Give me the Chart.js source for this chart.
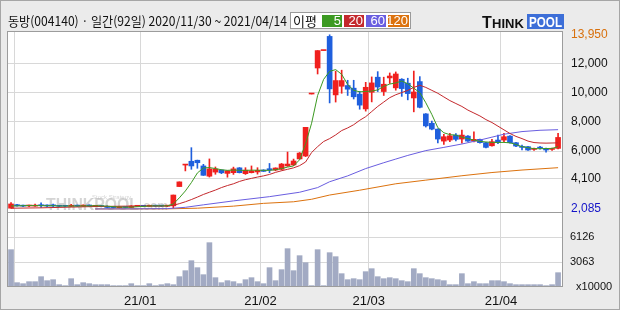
<!DOCTYPE html>
<html>
<head>
<meta charset="utf-8">
<script src="https://cdn.jsdelivr.net/npm/chart.js@4.4.1/dist/chart.umd.min.js"></script>
<style>
  html, body { margin: 0; padding: 0; background: #ebebeb; }
  canvas { display: block; }
</style>
</head>
<body>
<canvas id="chart" width="620" height="310"></canvas>
<script>
// 동방(004140) daily, 92 trading days 2020/11/30 ~ 2021/04/14
var opens = [2090,2330,2280,2240,2230,2320,2290,2260,2260,2240,2220,2300,2230,2300,2220,2250,2220,2170,2120,2170,2140,2220,
  2260,2220,2270,2250,2230,2250,3570,5040,5300,5370,4980,4280,4560,4700,4470,4520,4850,4450,4520,4570,
  4700,4790,4700,4750,4980,5050,5460,5660,9900,11680,12870,13840,9840,10430,10480,10300,9890,8880,
  10020,11050,10070,11000,10320,10910,10640,9630,10750,8540,7900,7500,6680,6750,7090,6820,7020,6680,6800,6570,6360,6750,
  6750,7020,6570,6260,6300,6110,6230,6180,6110,6180];
var highs = [2480,2350,2300,2300,2380,2450,2320,2380,2280,2260,2350,2310,2320,2310,2280,2270,2250,2190,2190,2200,2260,2280,
  2270,2300,2290,2260,2270,2990,3890,5050,6230,5380,5090,5460,4910,4720,4650,4900,4870,4860,4980,4860,
  4720,5150,4850,5150,5930,5450,5900,7620,9900,12870,12870,13950,11460,11530,10840,10840,10080,10700,
  11070,11430,11050,11340,11410,10950,10980,11470,11090,8560,8050,7520,7140,7210,7200,7430,7050,7320,6820,6600,6800,7090,
  7210,7050,6600,6410,6320,6200,6320,6200,6200,7210];
var lows = [2085,2230,2200,2200,2210,2150,2180,2150,2200,2190,2200,2220,2210,2220,2200,2180,2120,2100,2100,2110,2130,2200,
  2200,2210,2210,2200,2200,2100,3570,4640,4750,4820,4330,4220,4410,4450,4210,4400,4500,4400,4500,4420,
  4600,4520,4650,4700,4950,5000,5440,5620,9900,11270,12870,9290,9350,9950,9800,9560,8860,8730,
  9360,10070,9800,10620,10160,9740,9500,8680,8950,7640,7450,6550,6460,6640,6690,6530,6650,6620,6540,6220,6340,6500,
  6620,6540,6300,6070,6050,6040,6130,5930,6050,6150];
var closes = [2380,2250,2230,2270,2300,2260,2240,2250,2220,2220,2270,2230,2300,2240,2260,2200,2140,2130,2170,2140,2240,2260,
  2220,2280,2230,2230,2250,2990,3890,5050,4980,5200,4340,4780,4770,4510,4650,4780,4520,4690,4640,4680,
  4610,4700,4840,5110,5110,5320,5860,7620,9900,12870,12870,10250,10820,10820,10230,9710,9140,10360,
  10660,10380,10570,11130,11270,10270,9930,10040,8990,7720,7500,6820,6980,7040,6800,7090,6680,6800,6570,6250,6640,6570,
  6980,6570,6340,6250,6070,6120,6200,6070,6120,6930];
// volume, x10000 shares
var volumes = [4574,531,408,653,653,1266,776,898,286,163,1021,286,531,408,286,286,286,163,163,163,408,163,
  163,408,163,286,408,286,1266,2001,3226,2369,1511,5432,1143,531,776,653,408,898,1143,653,
  408,2369,776,2124,4697,2001,3839,2981,163,4574,163,4206,3716,1634,898,1021,898,1879,
  2246,1266,1021,1143,1021,776,653,2246,1634,1143,1021,898,776,286,286,1634,408,653,408,408,776,776,
  653,408,286,286,286,286,286,163,286,1756];
// moving averages
var ma5 = [2240,2250,2260,2270,2270,2260,2260,2260,2240,2240,2240,2240,2250,2250,2260,2250,2230,2190,2170,2160,2160,2190,
  2210,2240,2250,2250,2250,2380,2800,3270,3840,4500,4840,4870,4800,4720,4680,4700,4680,4680,4690,4690,
  4680,4680,4720,4800,4900,4980,5400,6500,7900,9800,10900,11450,11570,11250,10550,10150,10050,10080,
  10100,10180,10420,10580,10660,10790,10600,10300,10000,9300,8500,7600,7250,7120,7090,6950,6850,6750,6660,6620,6590,6590,
  6590,6560,6450,6300,6230,6160,6160,6170,6180,6300];
var ma20 = [2090,2095,2100,2105,2110,2115,2125,2135,2145,2155,2165,2175,2185,2195,2205,2210,2215,2220,2225,2230,2230,2230,
  2230,2235,2235,2235,2240,2290,2400,2530,2680,2850,3030,3180,3330,3500,3640,3760,3920,4040,4130,4220,
  4300,4400,4540,4650,4750,4850,5000,5250,5900,6300,6650,6850,7100,7400,7580,7800,8100,8350,
  8700,9050,9350,9650,9850,10000,10150,10350,10500,10350,10150,9950,9700,9450,9250,9050,8800,8600,8400,8150,7950,7700,
  7450,7200,7000,6850,6680,6580,6550,6540,6550,6560];
var ma60Idx = [14,20,26,29,32,37,43,48,51,53,56,59,62,64,66,69,72,75,78,80,82,85,88,91];
var ma60 = [2040,2045,2060,2150,2320,2590,2880,3180,3500,3900,4300,4800,5200,5450,5700,6030,6250,6480,6750,6950,7150,7330,7420,7460];
var ma120Idx = [14,26,31,37,42,47,50,53,58,64,69,75,80,85,91];
var ma120 = [2040,2045,2090,2230,2420,2530,2700,2990,3320,3760,4010,4310,4530,4700,4860];

var maPeriods = ['5', '20', '60', '120'];
var maColors = ['#3c9a22', '#c4282c', '#6a5ee0', '#dc720e'];
var monthStart = [1, 22, 42, 60, 82];
var monthLabels = ['', '21/01', '21/02', '21/03', '21/04'];
var priceTicks = [13950, 12000, 10000, 8000, 6000, 4100, 2085];
var volTicks = [0, 3063, 6126];
var title = '동방(004140) · 일간(92일) 2020/11/30 ~ 2021/04/14';

var UP = '#f0201e', DOWN = '#1f5fdd';
var idx = closes.map(function (c, i) { return i; });
function candleColor(c) {
  var i = c.dataIndex;
  return closes[i] >= opens[i] ? UP : DOWN;
}
function pairs(xs, ys) { return xs.map(function (x, k) { return {x: x, y: ys[k]}; }); }

function fitText(ctx, t, x, y, w) {
  var m = ctx.measureText(t).width;
  ctx.save();
  ctx.translate(x, y);
  ctx.scale(w / m, 1);
  ctx.fillText(t, 0, 0);
  ctx.restore();
}

var chrome = {
  id: 'chrome',
  beforeDraw: function (chart) {
    var ctx = chart.ctx, a = chart.chartArea;
    ctx.save();
    ctx.fillStyle = '#ebebeb';
    ctx.fillRect(0, 0, chart.width, chart.height);
    ctx.strokeStyle = '#a6a6a6';
    ctx.lineWidth = 1;
    ctx.strokeRect(0.5, 0.5, chart.width - 1, chart.height - 1);
    ctx.fillStyle = '#fff';
    ctx.fillRect(a.left, a.top, a.right - a.left, a.bottom - a.top);

    // title
    ctx.fillStyle = '#111';
    ctx.textBaseline = 'middle';
    ctx.font = '13px "Noto Sans CJK KR"';
    fitText(ctx, title, 8, 21, 279);

    // MA legend box
    ctx.fillStyle = '#fff';
    ctx.fillRect(290, 12, 121, 17);
    ctx.strokeStyle = '#9a9a9a';
    ctx.strokeRect(290.5, 12.5, 120, 16);
    ctx.fillStyle = '#111';
    ctx.font = '13px "Noto Sans CJK KR"';
    ctx.fillText('이평', 293, 21);
    var bx = [322, 344, 366, 388], bw = [20, 20, 20, 21];
    ctx.font = '13px "Liberation Sans"';
    ctx.textAlign = 'right';
    for (var k = 0; k < 4; k++) {
      ctx.fillStyle = maColors[k];
      ctx.fillRect(bx[k], 15, bw[k], 12);
      ctx.fillStyle = '#fff';
      ctx.fillText(maPeriods[k], bx[k] + bw[k] - 1, 21.5);
    }

    // logo
    ctx.textAlign = 'left';
    ctx.textBaseline = 'alphabetic';
    ctx.fillStyle = '#111';
    ctx.font = 'bold 16px "Liberation Sans"';
    ctx.fillText('T', 482, 28);
    ctx.font = 'bold 13px "Liberation Sans"';
    ctx.fillText('HINK', 492, 28);
    ctx.fillStyle = '#3d6fd8';
    ctx.fillRect(527, 14, 37, 15);
    ctx.fillStyle = '#fff';
    ctx.font = 'bold 14px "Liberation Sans"';
    fitText(ctx, 'POOL', 529, 27, 33);
    ctx.restore();
  },
  beforeDatasetsDraw: function (chart) {
    var ctx = chart.ctx;
    ctx.save();
    ctx.fillStyle = 'rgba(160,160,160,0.45)';
    ctx.textBaseline = 'alphabetic';
    ctx.font = 'bold 17px "Liberation Sans"';
    fitText(ctx, 'THINKPOOL', 46, 210, 93);
    ctx.font = 'bold 12px "Liberation Sans"';
    ctx.fillText('.com', 140, 210);
    ctx.font = '6px "Liberation Sans"';
    ctx.fillText('Stock Strategy', 92, 199);
    ctx.restore();
  },
  afterDraw: function (chart) {
    var ctx = chart.ctx, a = chart.chartArea;
    ctx.save();
    ctx.strokeStyle = '#9c9c9c';
    ctx.lineWidth = 1;
    ctx.strokeRect(a.left + 0.5, a.top + 0.5, a.right - a.left - 1, a.bottom - a.top - 1);
    var yb = Math.round(chart.scales.y.bottom) + 0.5;
    ctx.beginPath();
    ctx.moveTo(a.left, yb);
    ctx.lineTo(a.right, yb);
    ctx.stroke();
    ctx.restore();
  }
};

var maSets = [
  pairs(idx, ma5), pairs(idx, ma20), pairs(ma60Idx, ma60), pairs(ma120Idx, ma120)
].map(function (d, k) {
  return {
    type: 'line', data: d, yAxisID: 'y', borderColor: maColors[k], borderWidth: 1,
    pointRadius: 0, tension: 0, order: 0
  };
});

new Chart(document.getElementById('chart'), {
  type: 'bar',
  data: {
    datasets: maSets.concat([
      {
        data: idx.map(function (i) { return {x: i, y: [opens[i], closes[i]]}; }),
        yAxisID: 'y', backgroundColor: candleColor, barThickness: 5, minBarLength: 1,
        grouped: false, order: 1
      },
      {
        data: idx.map(function (i) { return {x: i, y: [lows[i], highs[i]]}; }),
        yAxisID: 'y', backgroundColor: candleColor, barThickness: 1,
        grouped: false, order: 2
      },
      {
        data: idx.map(function (i) { return {x: i, y: volumes[i]}; }),
        yAxisID: 'yVol', backgroundColor: '#a2aac3', barThickness: 5,
        grouped: false, order: 3
      }
    ])
  },
  options: {
    responsive: false,
    devicePixelRatio: 1,
    animation: false,
    events: [],
    layout: { padding: { left: 7, top: 31, right: 0, bottom: 0 } },
    plugins: { legend: { display: false }, tooltip: { enabled: false } },
    scales: {
      x: {
        type: 'linear', min: -0.67, max: 91.82, offset: false,
        afterBuildTicks: function (s) { s.ticks = monthStart.map(function (i) { return {value: i - 0.5}; }); },
        afterFit: function (s) { s.height = 23; },
        ticks: {
          autoSkip: false, maxRotation: 0, padding: 7, color: '#111',
          font: { family: 'Liberation Sans', size: 13 },
          callback: function (v, k) { return monthLabels[k]; }
        },
        grid: { color: '#d8d8d8', drawTicks: false, offset: false },
        border: { display: false }
      },
      y: {
        position: 'right', stack: 'panels', stackWeight: 181,
        min: 1830, max: 14210,
        afterBuildTicks: function (s) { s.ticks = priceTicks.map(function (v) { return {value: v}; }); },
        afterFit: function (s) { s.width = 57; },
        ticks: {
          autoSkip: false, padding: 8,
          font: { family: 'Liberation Sans', size: 12 },
          color: function (c) {
            if (c.tick.value === 13950) return '#d8700c';
            if (c.tick.value === 2085) return '#1414c8';
            return '#111';
          },
          callback: function (v) { return v.toLocaleString('en-US'); }
        },
        grid: {
          drawTicks: false,
          color: function (c) {
            return (c.tick.value === 13950 || c.tick.value === 2085) ? 'rgba(0,0,0,0)' : '#d8d8d8';
          }
        },
        border: { display: false }
      },
      yVol: {
        position: 'right', stack: 'panels', stackWeight: 75,
        min: 0, max: 9190,
        afterBuildTicks: function (s) { s.ticks = volTicks.map(function (v) { return {value: v}; }); },
        afterFit: function (s) { s.width = 57; },
        ticks: {
          autoSkip: false, padding: 7, color: '#111',
          font: { family: 'Liberation Sans', size: 11 },
          callback: function (v) { return v === 0 ? '  x10000' : String(v); }
        },
        grid: {
          drawTicks: false,
          color: function (c) { return c.tick.value === 0 ? 'rgba(0,0,0,0)' : '#d8d8d8'; }
        },
        border: { display: false }
      }
    }
  },
  plugins: [chrome]
});
</script>
</body>
</html>
